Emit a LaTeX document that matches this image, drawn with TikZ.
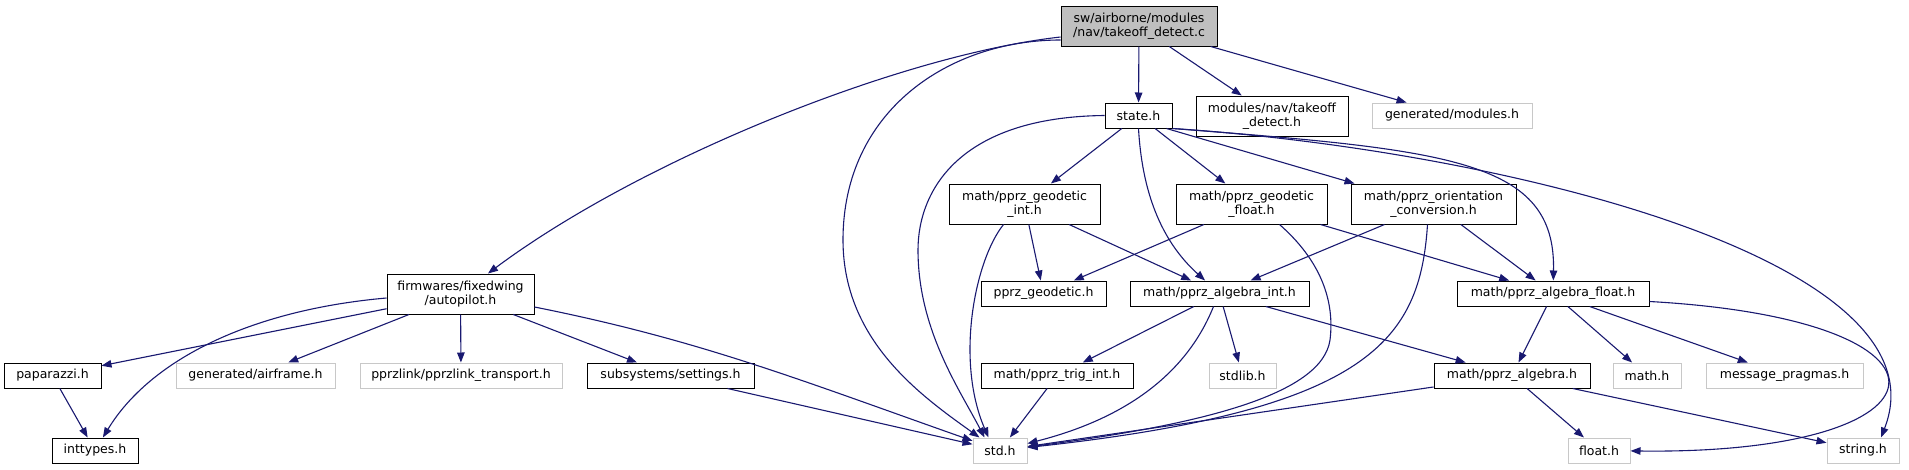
\documentclass[tikz,border=0pt]{standalone}
\usepackage{fontspec}
\newfontfamily\dejavu{DejaVu Sans}
\usetikzlibrary{arrows.meta,calc}
\definecolor{edgecol}{HTML}{191970}
\definecolor{mainfill}{HTML}{BFBFBF}
\definecolor{lgray}{HTML}{C8C8C8}
\begin{document}
\begin{tikzpicture}[x=1pt,y=-1pt,
  box/.style={draw=black, line width=1pt, fill=white, inner sep=0pt, align=center,
    font={\dejavu\fontsize{12.5}{14}\selectfont}, text=black},
  gbox/.style={box, draw=lgray, line width=1pt},
  sz/.style 2 args={minimum width=#1pt, minimum height=#2pt},
  edge/.style={draw=edgecol, line width=1.1pt, -{Triangle[length=10pt,width=7.5pt]}}]
\path[use as bounding box] (0,0) rectangle (1909,469);
% nodes
\node[box, fill=mainfill, sz={156}{40}] (main) at (1139,26) {sw/airborne/modules\\/nav/takeoff\_detect.c};
\node[box, sz={147}{40}] (autopilot) at (460.5,294) {firmwares/fixedwing\\/autopilot.h};
\node[box, sz={67}{25}] (state) at (1138.5,115.5) {state.h};
\node[box, sz={152}{40}] (modnav) at (1272,116) {modules/nav/takeoff\\\_detect.h};
\node[gbox, sz={160}{25}] (genmod) at (1452,115.5) {generated/modules.h};
\node[box, sz={151}{40}] (geoint) at (1024.5,204) {math/pprz\_geodetic\\\_int.h};
\node[box, sz={151}{40}] (geofloat) at (1251.5,204) {math/pprz\_geodetic\\\_float.h};
\node[box, sz={165}{40}] (orient) at (1433.5,204) {math/pprz\_orientation\\\_conversion.h};
\node[box, sz={125}{25}] (geodetic) at (1043.5,293.5) {pprz\_geodetic.h};
\node[box, sz={179}{25}] (algint) at (1219.5,293.5) {math/pprz\_algebra\_int.h};
\node[box, sz={192}{25}] (algfloat) at (1553,293.5) {math/pprz\_algebra\_float.h};
\node[box, sz={97}{25}] (paparazzi) at (52.5,375.5) {paparazzi.h};
\node[gbox, sz={159}{25}] (airframe) at (255.5,375.5) {generated/airframe.h};
\node[gbox, sz={202}{25}] (pprzlink) at (461,375.5) {pprzlink/pprzlink\_transport.h};
\node[box, sz={167}{25}] (settings) at (670.5,375.5) {subsystems/settings.h};
\node[box, sz={152}{25}] (trigint) at (1057,375.5) {math/pprz\_trig\_int.h};
\node[gbox, sz={67}{25}] (stdlib) at (1242.5,375.5) {stdlib.h};
\node[box, sz={156}{25}] (algebra) at (1512,375.5) {math/pprz\_algebra.h};
\node[gbox, sz={68}{25}] (math) at (1647,375.5) {math.h};
\node[gbox, sz={157}{25}] (msg) at (1784.5,375.5) {message\_pragmas.h};
\node[box, sz={86}{25}] (inttypes) at (95,450.5) {inttypes.h};
\node[gbox, sz={54}{25}] (std) at (1000,450.5) {std.h};
\node[gbox, sz={62}{25}] (float) at (1599,450.5) {float.h};
\node[gbox, sz={72}{25}] (string) at (1863,450.5) {string.h};
% edges from main
\draw[edge] ($(main.west)+(0,11)$) .. controls (900,55) and (640,160) .. (autopilot);
\draw[edge] ($(main.west)+(0,14)$) .. controls (950,40) and (843,110) .. (843,240) .. controls (843,340) and (920,395) .. ($(std.north west)+(7,0)$);
\draw[edge] (main) -- (state);
\draw[edge] (main) -- (modnav);
\draw[edge] (main) -- (genmod);
% edges from autopilot
\draw[edge] (autopilot) -- (paparazzi);
\draw[edge] ($(autopilot.west)+(0,4)$) .. controls (250,310) and (150,360) .. (inttypes);
\draw[edge] (autopilot) -- (airframe);
\draw[edge] (autopilot) -- (pprzlink);
\draw[edge] (autopilot) -- (settings);
\draw[edge] ($(autopilot.east)+(0,13)$) .. controls (700,340) and (800,380) .. (std);
\draw[edge] (settings) -- (std);
\draw[edge] (paparazzi) -- (inttypes);
% edges from state
\draw[edge] (state.west) .. controls (960,117) and (918,190) .. (918,250) .. controls (918,330) and (960,390) .. ($(std.north west)+(12,0)$);
\draw[edge] (state) -- (geoint);
\draw[edge] (state.south) .. controls (1142,190) and (1160,240) .. (algint);
\draw[edge] (state) -- (geofloat);
\draw[edge] ($(state.south east)+(-6,0)$) -- ($(orient.north west)+(4,0)$);
\draw[edge] (state.south east) .. controls (1450,150) and (1556,160) .. (algfloat);
\draw[edge] (state.south east) .. controls (1500,150) and (1950,260) .. ($(string.north)+(18,0)$);
% edges from geodetic int / float / orientation
\draw[edge] ($(geoint.south)+(-21,0)$) .. controls (975,260) and (955,360) .. ($(std.north west)+(16,0)$);
\draw[edge] (geoint) -- (geodetic);
\draw[edge] (geoint) -- (algint);
\draw[edge] (geofloat) -- (geodetic);
\draw[edge] (geofloat) -- (algfloat);
\draw[edge] ($(geofloat.south)+(28,0)$) .. controls (1320,260) and (1335,300) .. (1330,340) .. controls (1322,395) and (1200,425) .. (std);
\draw[edge] (orient) -- (algint);
\draw[edge] (orient) -- (algfloat);
\draw[edge] ($(orient.south)+(-6,0)$) .. controls (1420,340) and (1370,410) .. (std);
% edges from algebra int / float
\draw[edge] (algint) -- (trigint);
\draw[edge] ($(algint.south)+(-6,0)$) .. controls (1180,390) and (1100,425) .. (std);
\draw[edge] (algint) -- (stdlib);
\draw[edge] (algint) -- (algebra);
\draw[edge] (algfloat) -- (algebra);
\draw[edge] (algfloat) -- (math);
\draw[edge] (algfloat) -- (msg);
\draw[edge] ($(algfloat.east)+(0,8)$) .. controls (1980,320) and (1960,455) .. (float);
% edges from algebra / trig
\draw[edge] (algebra) -- (std);
\draw[edge] (algebra) -- (float);
\draw[edge] (algebra) -- (string);
\draw[edge] (trigint) -- (std);
\end{tikzpicture}
\end{document}
